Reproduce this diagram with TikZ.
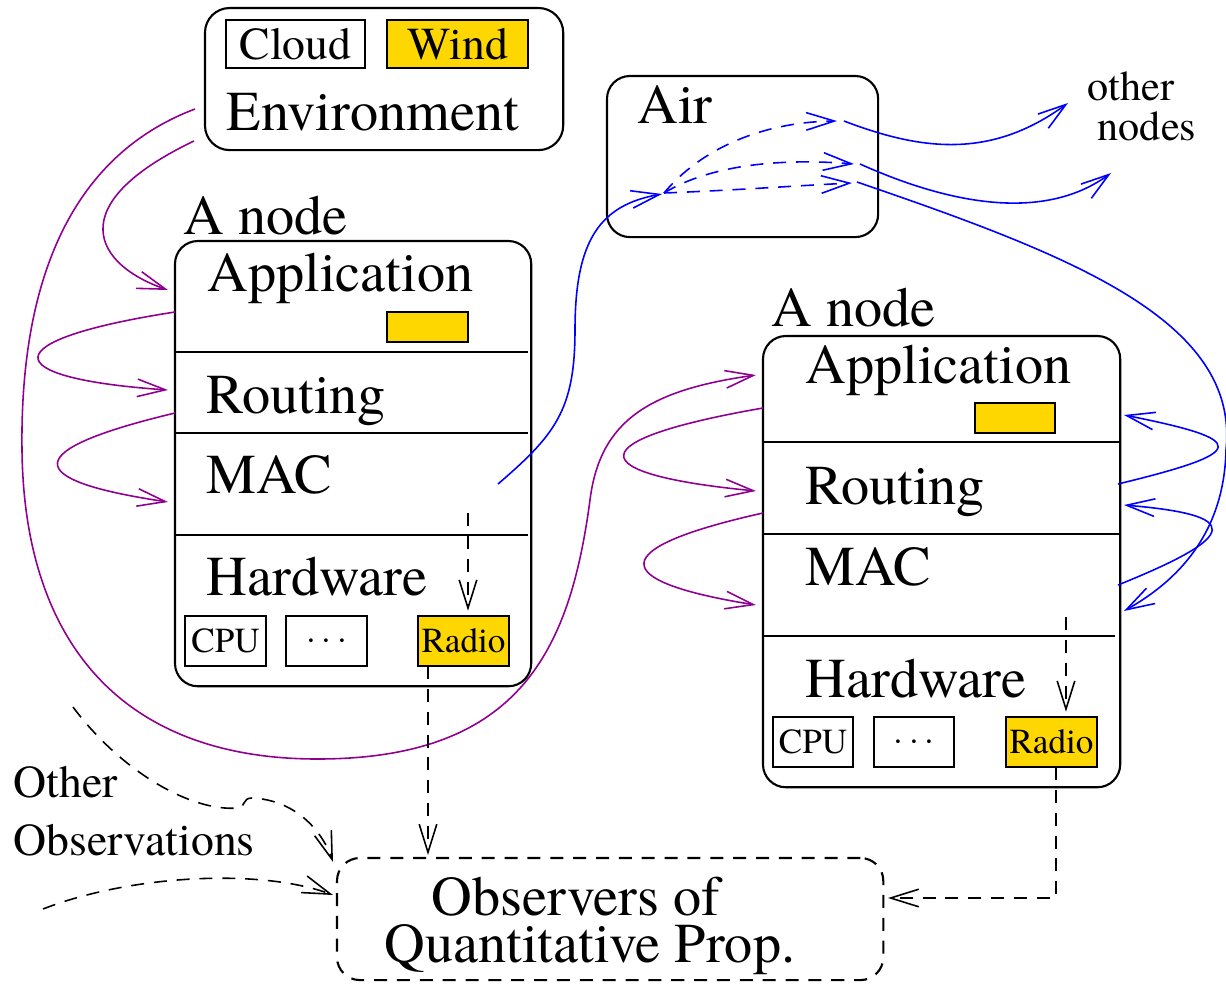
\documentclass[tikz,border=0pt]{standalone}
\usepackage{fontspec}
\setmainfont{texgyretermes}[Extension=.otf,UprightFont=*-regular,BoldFont=*-bold,ItalicFont=*-italic]
\usetikzlibrary{arrows.meta,calc,positioning}
\definecolor{xpurple}{RGB}{144,0,144}
\definecolor{xgold}{RGB}{255,215,0}
\newcommand{\hwdots}{\smash{\raisebox{-2.5pt}{$\cdots$}}}

\begin{document}
\begin{tikzpicture}[x=0.01cm,y=-0.01cm,
    box/.style={draw,line width=0.6pt,rounded corners=6.5pt,inner sep=0pt,outer sep=0pt,anchor=north west},
    part/.style={draw,line width=0.5pt,inner sep=0pt,outer sep=0pt,anchor=north west,font=\fontsize{13}{15}\selectfont},
    hw/.style={part,font=\fontsize{10}{12}\selectfont},
    lbl/.style={anchor=base west,inner sep=0pt,font=\fontsize{16}{19}\selectfont},
    small/.style={anchor=base west,inner sep=0pt,font=\fontsize{13}{15}\selectfont},
    wire/.style={line width=0.45pt,-{Straight Barb[length=8pt,width=5pt]}},
    flow/.style={wire,xpurple},
    radio/.style={wire,blue},
    obs/.style={wire,dash pattern=on 3.7pt off 2.8pt},
]
    \useasboundingbox (0,0) rectangle (1226,984);

    % environment
    \node[box,rounded corners=7pt,minimum width=3.58cm,minimum height=1.42cm] (env) at (205,8) {};
    \node[part,minimum width=1.39cm,minimum height=0.48cm] (cloud) at (226,20) {Cloud};
    \node[part,fill=xgold,minimum width=1.41cm,minimum height=0.48cm] (wind) at (387,20) {Wind};
    \node[lbl] (envlbl) at (226,130) {Environment};

    % air
    \node[box,minimum width=2.71cm,minimum height=1.61cm] (air) at (607,76) {};
    \node[lbl] (airlbl) at (637,123) {Air};
    \node[anchor=base west,inner sep=0pt,font=\fontsize{12}{14}\selectfont] (other) at (1087,100) {other};
    \node[anchor=base west,inner sep=0pt,font=\fontsize{12}{14}\selectfont] (nodes) at (1097,140) {nodes};

    % left node
    \node[lbl] (lnodelbl) at (183,234) {A node};
    \node[box,minimum width=3.56cm,minimum height=4.45cm] (lnode) at (175,241) {};
    \draw[line width=0.5pt] (175,352) -- (528,352);
    \draw[line width=0.5pt] (175,433) -- (528,433);
    \draw[line width=0.5pt] (175,535) -- (528,535);
    \node[lbl] (lapp) at (207,291) {Application};
    \node[part,fill=xgold,minimum width=0.81cm,minimum height=0.30cm] (lappvar) at (387,312) {};
    \node[lbl] (lrout) at (206,413) {Routing};
    \node[lbl] (lmac) at (206,493) {MAC};
    \node[lbl] (lhw) at (206,595) {Hardware};
    \node[hw,minimum width=0.81cm,minimum height=0.50cm] (lcpu) at (185,616) {CPU};
    \node[hw,minimum width=0.81cm,minimum height=0.50cm] (ldots) at (286,616) {\hwdots};
    \node[hw,fill=xgold,minimum width=0.91cm,minimum height=0.50cm] (lradio) at (418,616) {Radio};

    % right node
    \node[lbl] (rnodelbl) at (771,326) {A node};
    \node[box,minimum width=3.57cm,minimum height=4.51cm] (rnode) at (763,336) {};
    \draw[line width=0.5pt] (763,442) -- (1120,442);
    \draw[line width=0.5pt] (763,534) -- (1120,534);
    \draw[line width=0.5pt] (763,636) -- (1115,636);
    \node[lbl] (rapp) at (805,383) {Application};
    \node[part,fill=xgold,minimum width=0.80cm,minimum height=0.30cm] (rappvar) at (975,403) {};
    \node[lbl] (rrout) at (805,504) {Routing};
    \node[lbl] (rmac) at (805,585) {MAC};
    \node[lbl] (rhw) at (805,697) {Hardware};
    \node[hw,minimum width=0.80cm,minimum height=0.50cm] (rcpu) at (773,717) {CPU};
    \node[hw,minimum width=0.80cm,minimum height=0.50cm] (rdots) at (874,717) {\hwdots};
    \node[hw,fill=xgold,minimum width=0.91cm,minimum height=0.50cm] (rradio) at (1006,717) {Radio};

    % observers
    \node[box,dash pattern=on 3.7pt off 2.8pt,minimum width=5.46cm,minimum height=1.22cm] (obsbox) at (337,858) {};
    \node[lbl] (obs1) at (431,915) {Observers of};
    \node[lbl] (obs2) at (384,962) {Quantitative Prop.};
    \node[small] (otherlbl) at (13,797) {Other};
    \node[small] (observlbl) at (13,855) {Observations};

    % end points
    \coordinate (envA) at (195,109);
    \coordinate (envB) at (194,141);
    \coordinate (lappin) at (168,290);
    \coordinate (lappout) at (175,312);
    \coordinate (lroutin) at (168,390);
    \coordinate (lroutout) at (175,413);
    \coordinate (lmacin) at (168,502);
    \coordinate (rappin) at (756,375);
    \coordinate (rappout) at (763,408);
    \coordinate (rroutin) at (756,491);
    \coordinate (rroutout) at (763,513);
    \coordinate (rmacin) at (756,605);
    \coordinate (lmacout) at (498,484);
    \coordinate (airin) at (662,194);
    \coordinate (airsrc) at (664,193);
    \coordinate (airA) at (837,121);
    \coordinate (airAout) at (844,121);
    \coordinate (airB) at (854,164);
    \coordinate (airBout) at (860,164);
    \coordinate (airC) at (852,183);
    \coordinate (airCout) at (857,182);
    \coordinate (otherA) at (1068,103);
    \coordinate (otherB) at (1111,173);
    \coordinate (rappr) at (1124,415);
    \coordinate (rroutr) at (1118,484);
    \coordinate (rroutr2) at (1124,505);
    \coordinate (rmacr) at (1118,585);
    \coordinate (rmacr2) at (1124,611);
    \coordinate (lmacdown) at (468,513);
    \coordinate (rmacdown) at (1066,617);
    \coordinate (lradioout) at (428,666);
    \coordinate (obstop) at (428,855);
    \coordinate (rradioout) at (1056,767);
    \coordinate (obsright) at (888,898);
    \coordinate (obsA) at (73,707);
    \coordinate (obsAin) at (333,862);
    \coordinate (obsB) at (43,909);
    \coordinate (obsBin) at (333,895);

    % purple flows
    \draw[flow] (envB) .. controls (60,205) and (95,265) .. (lappin);
    \draw[flow] (lappout) .. controls (-6,340) and (-6,378) .. (lroutin);
    \draw[flow] (lroutout) .. controls (20,450) and (20,480) .. (lmacin);
    \draw[flow] (rappout) .. controls (579,440) and (579,474) .. (rroutin);
    \draw[flow] (rroutout) .. controls (606,548) and (606,581) .. (rmacin);
    \draw[flow] (envA) .. controls (60,160) and (20,300) .. (22,450)
        .. controls (24,640) and (120,760) .. (320,759)
        .. controls (520,758) and (570,650) .. (590,500)
        .. controls (600,420) and (650,390) .. (rappin);

    % radio
    \draw[radio] (lmacout) .. controls (555,435) and (575,410) .. (575,330)
        .. controls (575,240) and (600,205) .. (airin);
    \draw[radio,dash pattern=on 3.7pt off 2.8pt] (airsrc) .. controls (700,150) and (760,122) .. (airA);
    \draw[radio,dash pattern=on 3.7pt off 2.8pt] (airsrc) .. controls (710,165) and (780,158) .. (airB);
    \draw[radio,dash pattern=on 3.7pt off 2.8pt] (airsrc) .. controls (740,190) and (790,186) .. (airC);
    \draw[radio] (airAout) .. controls (920,150) and (990,160) .. (otherA);
    \draw[radio] (airBout) .. controls (940,200) and (1040,225) .. (otherB);
    \draw[radio] (airCout) .. controls (1070,255) and (1240,320) .. (1226,450)
        .. controls (1224,540) and (1170,585) .. (rmacr2);
    \draw[radio] (rroutr) .. controls (1250,452) and (1250,440) .. (rappr);
    \draw[radio] (rmacr) .. controls (1242,535) and (1242,515) .. (rroutr2);

    % observations
    \draw[obs,shorten >=1.5pt] (lmacdown) -- (lmacdown |- lradio.north);
    \draw[obs,shorten >=1.5pt] (rmacdown) -- (rmacdown |- rradio.north);
    \draw[obs] (lradioout) -- (obstop);
    \draw[obs] (rradioout) |- (obsright);
    \draw[obs] (obsA) .. controls (120,770) and (190,812) .. (238,808)
        .. controls (246,807) and (242,798) .. (252,798)
        .. controls (295,800) and (322,830) .. (obsAin);
    \draw[obs] (obsB) .. controls (130,875) and (260,868) .. (obsBin);
\end{tikzpicture}
\end{document}
